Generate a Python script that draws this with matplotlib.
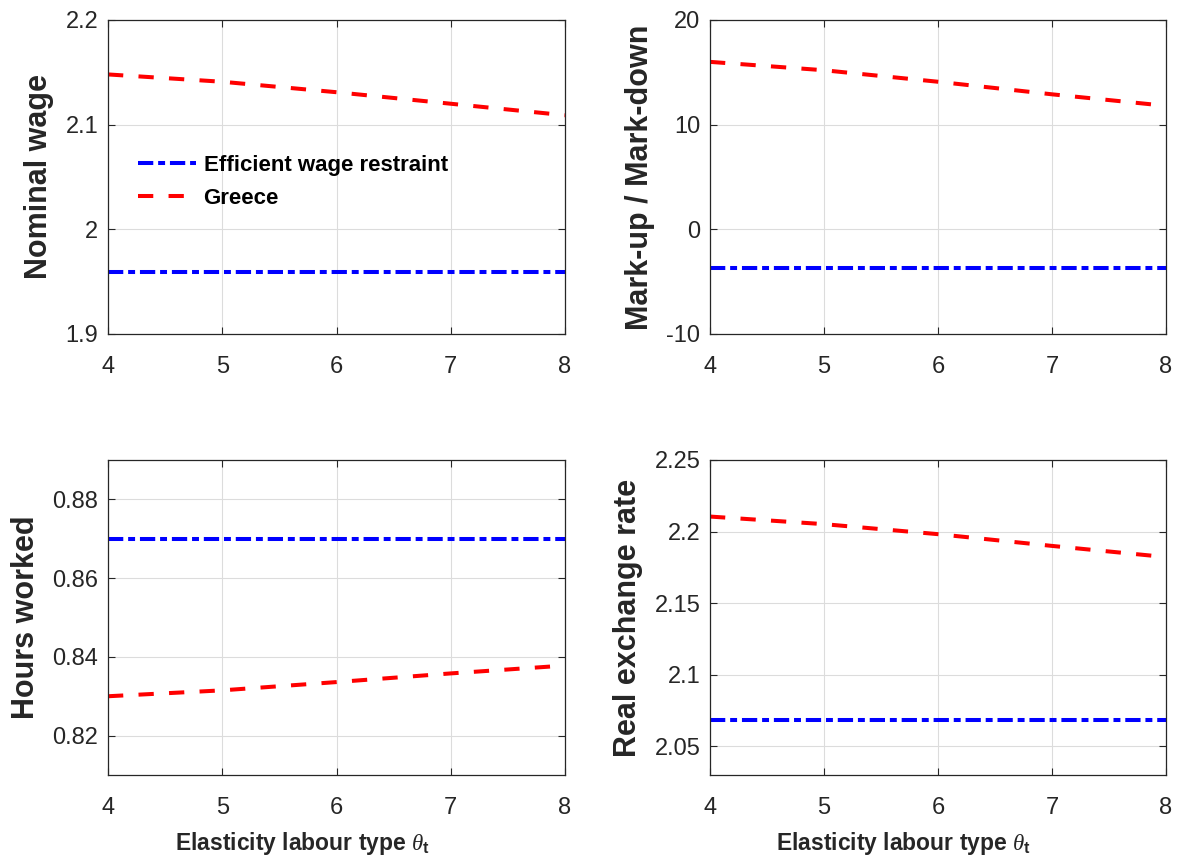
import matplotlib

matplotlib.use("Agg")
import matplotlib.pyplot as plt

# elasticity of substitution between labour types
theta = [4, 5, 6, 7, 8]

# efficient wage restraint (flat across theta)
wage_eff = [1.959, 1.959, 1.959, 1.959, 1.959]
markup_eff = [-3.7, -3.7, -3.7, -3.7, -3.7]
hours_eff = [0.870, 0.870, 0.870, 0.870, 0.870]
rer_eff = [2.0685, 2.0685, 2.0685, 2.0685, 2.0685]

# Greece
wage_gr = [2.148, 2.141, 2.131, 2.120, 2.109]
markup_gr = [16.0, 15.2, 14.1, 12.9, 11.8]
hours_gr = [0.830, 0.8315, 0.8336, 0.8358, 0.8378]
rer_gr = [2.2105, 2.2052, 2.1982, 2.1900, 2.1822]

PANELS = [
    ("Nominal wage", wage_eff, wage_gr, (1.9, 2.2), [1.9, 2.0, 2.1, 2.2], ["1.9", "2", "2.1", "2.2"]),
    ("Mark-up / Mark-down", markup_eff, markup_gr, (-10, 20), [-10, 0, 10, 20], ["-10", "0", "10", "20"]),
    ("Hours worked", hours_eff, hours_gr, (0.81, 0.89), [0.82, 0.84, 0.86, 0.88], ["0.82", "0.84", "0.86", "0.88"]),
    ("Real exchange rate", rer_eff, rer_gr, (2.03, 2.25), [2.05, 2.1, 2.15, 2.2, 2.25], ["2.05", "2.1", "2.15", "2.2", "2.25"]),
]

AX_COLOR = "#262626"

plt.rcParams["font.family"] = ["Liberation Sans", "DejaVu Sans"]
plt.rcParams["mathtext.fontset"] = "custom"
plt.rcParams["mathtext.rm"] = "Liberation Sans"
plt.rcParams["mathtext.it"] = "Liberation Serif:italic"
plt.rcParams["mathtext.bf"] = "Liberation Sans:bold"
plt.rcParams["lines.scale_dashes"] = False

fig = plt.figure(figsize=(11.8, 8.61), dpi=100)
W, H = 1180, 861
boxes = [
    (108, 20, 565, 334),
    (710, 20, 1166, 334),
    (108, 460, 565, 775),
    (710, 460, 1166, 775),
]

for i, (box, panel) in enumerate(zip(boxes, PANELS)):
    label, eff, gr, ylim, yticks, yticklabels = panel
    x0, y0, x1, y1 = box
    ax = fig.add_axes([x0 / W, 1 - y1 / H, (x1 - x0) / W, (y1 - y0) / H])

    ax.plot(theta, eff, color="#0000ff", lw=2.9, dashes=(11, 3.5, 5, 3.5),
            label="Efficient wage restraint")
    ax.plot(theta, gr, color="#ff0000", lw=2.9, dashes=(11, 11), label="Greece")

    ax.set_xlim(4, 8)
    ax.set_ylim(*ylim)
    ax.set_xticks([4, 5, 6, 7, 8])
    ax.set_yticks(yticks)
    ax.set_yticklabels(yticklabels)
    ax.grid(True, color="#dcdcdc", lw=0.8)
    ax.set_axisbelow(True)
    ax.tick_params(direction="in", top=True, right=True, length=5, width=0.8,
                   colors=AX_COLOR, labelsize=17)
    ax.tick_params(axis="x", pad=16)
    ax.tick_params(axis="y", pad=7)
    for spine in ax.spines.values():
        spine.set_color(AX_COLOR)
        spine.set_linewidth(0.9)

    ax.set_ylabel(label, fontsize=22, fontweight="bold", color=AX_COLOR, labelpad=8)
    if i >= 2:
        ax.set_xlabel(r"Elasticity labour type $\theta_{\mathbf{t}}$", fontsize=16.5,
                      fontweight="bold", color=AX_COLOR, labelpad=6)
        ax.xaxis.set_label_coords(0.425, -0.175)
    if i == 0:
        leg = ax.legend(loc="upper left", bbox_to_anchor=(0.022, 0.635), frameon=False,
                        handlelength=2.6, handletextpad=0.35, labelspacing=0.55,
                        prop={"size": 16, "weight": "bold"})
        for t in leg.get_texts():
            t.set_color("black")

fig.savefig("out.png", dpi=100)
